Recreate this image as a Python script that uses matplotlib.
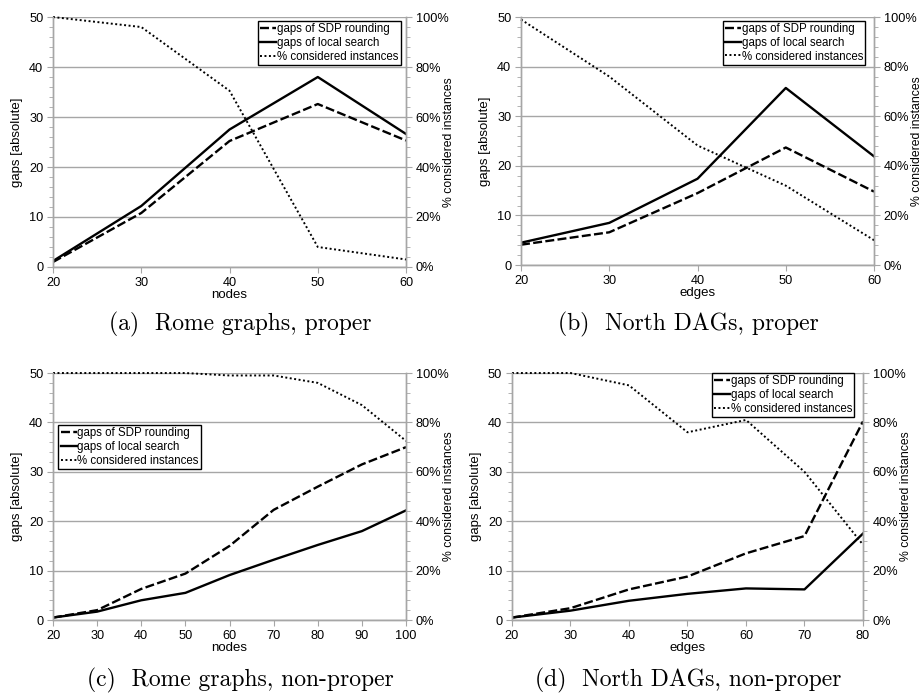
import matplotlib
matplotlib.use("Agg")
import matplotlib.pyplot as plt
from matplotlib.lines import Line2D
from matplotlib.ticker import MultipleLocator, FuncFormatter

plt.rcParams["font.family"] = ["Liberation Sans", "DejaVu Sans"]

# (a) Rome graphs, proper
a_x = [20, 30, 40, 50, 60]
a_sdp = [1.0, 10.8, 25.2, 32.6, 25.3]
a_local = [1.2, 12.2, 27.5, 38.0, 26.6]
a_pct = [100, 96, 70.5, 8, 3]

# (b) North DAGs, proper
b_x = [20, 30, 40, 50, 60]
b_sdp = [4.1, 6.6, 14.5, 23.7, 14.8]
b_local = [4.5, 8.5, 17.4, 35.7, 21.9]
b_pct = [99, 76, 48.2, 32, 10]

# (c) Rome graphs, non-proper
c_x = [20, 30, 40, 50, 60, 70, 80, 90, 100]
c_sdp = [0.5, 2.0, 6.3, 9.4, 15.0, 22.3, 27.0, 31.5, 35.0]
c_local = [0.5, 1.7, 4.0, 5.5, 9.1, 12.2, 15.2, 18.0, 22.2]
c_pct = [100, 100, 100, 100, 99, 99, 96, 87, 72.5]

# (d) North DAGs, non-proper
d_x = [20, 30, 40, 50, 60, 70, 80]
d_sdp = [0.5, 2.4, 6.2, 8.8, 13.5, 17.0, 40.2]
d_local = [0.5, 1.9, 3.9, 5.3, 6.4, 6.2, 17.5]
d_pct = [100, 100, 95, 76, 81, 60, 30.5]

labels = ["gaps of SDP rounding", "gaps of local search", "% considered instances"]
grey = "#a6a6a6"
dash_style = (0, (3.8, 1.4))
dot_style = (0, (1, 1.3))

fig = plt.figure(figsize=(9.22, 6.98), dpi=100)


def panel(rect, x, sdp, local, pct, xlabel, caption, cap_xy, legend_anchor):
    ax = fig.add_axes(rect)
    ax2 = ax.twinx()  # twin is drawn on top, its patch is transparent

    ax.plot(x, sdp, color="black", lw=1.7, linestyle=dash_style)
    ax.plot(x, local, color="black", lw=1.7)
    ax2.plot(x, pct, color="black", lw=1.4, linestyle=dot_style, clip_on=False)

    ax.set_xlim(x[0], x[-1])
    ax.set_ylim(0, 50)
    ax2.set_ylim(0, 100)
    ax.set_xticks(range(x[0], x[-1] + 1, 10))
    ax.yaxis.set_major_locator(MultipleLocator(10))
    ax.yaxis.set_minor_locator(MultipleLocator(2))
    ax2.yaxis.set_major_locator(MultipleLocator(20))
    ax2.yaxis.set_minor_locator(MultipleLocator(4))
    ax2.yaxis.set_major_formatter(FuncFormatter(lambda v, p: f"{v:.0f}%"))

    ax.grid(axis="y", color=grey, lw=1.0)
    ax.set_axisbelow(True)
    for a in (ax, ax2):
        a.spines["top"].set_visible(False)
        for side in ("left", "right", "bottom"):
            a.spines[side].set_color(grey)
            a.spines[side].set_linewidth(1.0)
        a.tick_params(which="both", color=grey, labelsize=9.2, direction="out", pad=3)
        a.tick_params(which="major", length=4)
        a.tick_params(which="minor", length=3)

    ax.set_xlabel(xlabel, fontsize=9.5, labelpad=0)
    ax.set_ylabel("gaps [absolute]", fontsize=9.5, labelpad=4)
    ax2.set_ylabel("% considered instances", fontsize=8.8, labelpad=-4)

    handles = [
        Line2D([], [], color="black", lw=1.7, linestyle=dash_style),
        Line2D([], [], color="black", lw=1.7),
        Line2D([], [], color="black", lw=1.4, linestyle=dot_style),
    ]
    leg = ax2.legend(handles, labels, loc=legend_anchor[0], bbox_to_anchor=legend_anchor[1],
                     fontsize=8.3, frameon=True, fancybox=False, handlelength=1.4,
                     handletextpad=0.05, borderpad=0.2, labelspacing=0.15, borderaxespad=0,
                     framealpha=1)
    leg.get_frame().set_edgecolor("black")
    leg.get_frame().set_linewidth(1.0)

    fig.text(cap_xy[0], cap_xy[1], caption, ha="center", va="center",
             fontsize=17, family=["cmr10", "DejaVu Serif"])


panel([0.0575, 0.6175, 0.3829, 0.3581], a_x, a_sdp, a_local, a_pct, "nodes",
      "(a)  Rome graphs, proper", (240 / 922, 1 - 324 / 698), ("upper right", (0.985, 0.985)))
panel([0.5651, 0.6203, 0.3829, 0.3553], b_x, b_sdp, b_local, b_pct, "edges",
      "(b)  North DAGs, proper", (688 / 922, 1 - 324 / 698), ("upper right", (0.975, 0.985)))
panel([0.0575, 0.1117, 0.3829, 0.3539], c_x, c_sdp, c_local, c_pct, "nodes",
      "(c)  Rome graphs, non-proper", (240 / 922, 1 - 680 / 698), ("upper left", (0.015, 0.79)))
panel([0.5553, 0.1117, 0.3807, 0.3539], d_x, d_sdp, d_local, d_pct, "edges",
      "(d)  North DAGs, non-proper", (688 / 922, 1 - 680 / 698), ("upper right", (0.975, 1.0)))

fig.savefig("out.png", dpi=100)
